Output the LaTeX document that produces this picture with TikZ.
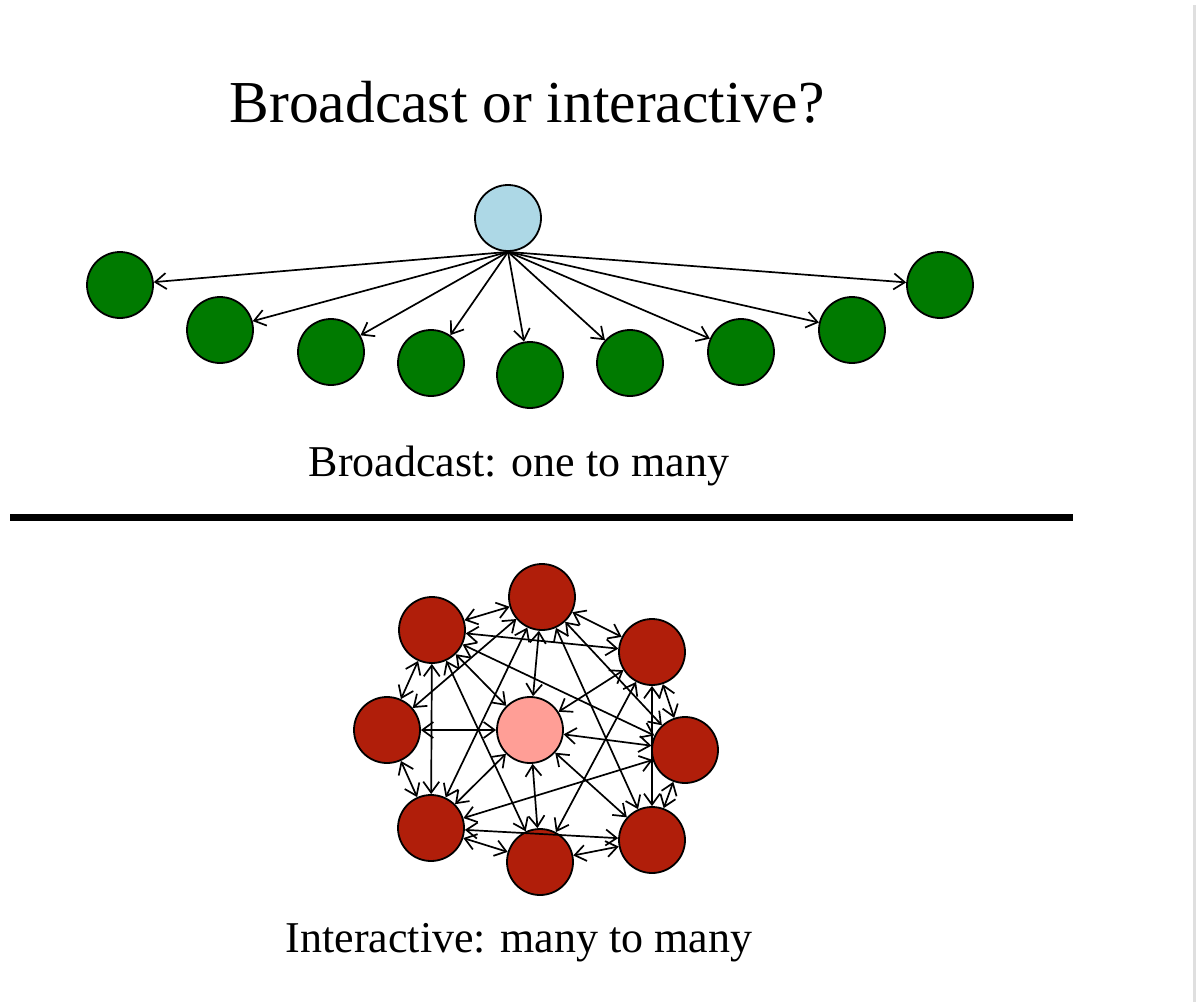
\documentclass[tikz,border=0pt]{standalone}
\usepackage{fontspec}
\setmainfont{Liberation Serif}
\usetikzlibrary{arrows.meta}

\definecolor{hubblue}{RGB}{173,216,230}
\definecolor{leafgreen}{RGB}{0,122,0}
\definecolor{peerred}{RGB}{176,30,10}
\definecolor{centrepink}{RGB}{255,158,150}

\tikzset{
    dot/.style={circle, draw=black, line width=1.8pt, minimum size=66pt, inner sep=0pt},
    link/.style={line width=1.7pt, -{Straight Barb[length=11pt,width=16pt]}},
    duplex/.style={line width=1.7pt, {Straight Barb[length=11pt,width=16pt]}-{Straight Barb[length=11pt,width=16pt]}},
    caption/.style={anchor=base, font=\fontsize{44}{52}\selectfont}
}

\begin{document}
\begin{tikzpicture}[x=1pt, y=-1pt]
    \useasboundingbox (0,0) rectangle (1197,1002);
    \draw[gray!25, line width=3pt] (1194,5) -- (1194,1002);

    % Title
    \node[anchor=base, font=\fontsize{59.5}{72}\selectfont] (title) at (527,122) {Broadcast or interactive?};

    % Broadcast
    \node[dot, fill=hubblue] (hub) at (508,218) {};
    \foreach \n/\x/\y in {1/120/285, 2/220/330, 3/331/352, 4/431/363, 5/530/375,
                          6/630/363, 7/741/352, 8/852/330, 9/940/285}
        \node[dot, fill=leafgreen] (g\n) at (\x,\y) {};
    \foreach \n in {1,...,9}
        \draw[link] (hub.south) -- (g\n);
    \node[caption] (bcap) at (519,476) {Broadcast: one to many};

    % Divider
    \draw[line width=7pt] (10,517) -- (1073,517);

    % Interactive
    \foreach \n/\x/\y in {pt/542/597, pul/432/630, pur/652/652, pl/387/730, pr/685/750,
                          pll/431/828, pb/540/862, plr/652/840}
        \node[dot, fill=peerred] (\n) at (\x,\y) {};
    \node[dot, fill=centrepink] (pc) at (530,730) {};
    \foreach \a/\b in {pt/pur, pur/pr, pr/plr, plr/pb, pb/pll, pll/pl, pl/pul, pul/pt,
                       pc/pt, pc/pul, pc/pl, pc/pur, pc/pr, pc/plr, pc/pb, pc/pll,
                       pul/pur, pul/pr, pul/pll, pul/pb, pt/pl, pt/pll, pt/plr, pt/pr,
                       pur/plr, pur/pb, pll/pr, pll/plr}
        \draw[duplex] (\a) -- (\b);
    \node[caption] (icap) at (519,952) {Interactive: many to many};
\end{tikzpicture}
\end{document}
